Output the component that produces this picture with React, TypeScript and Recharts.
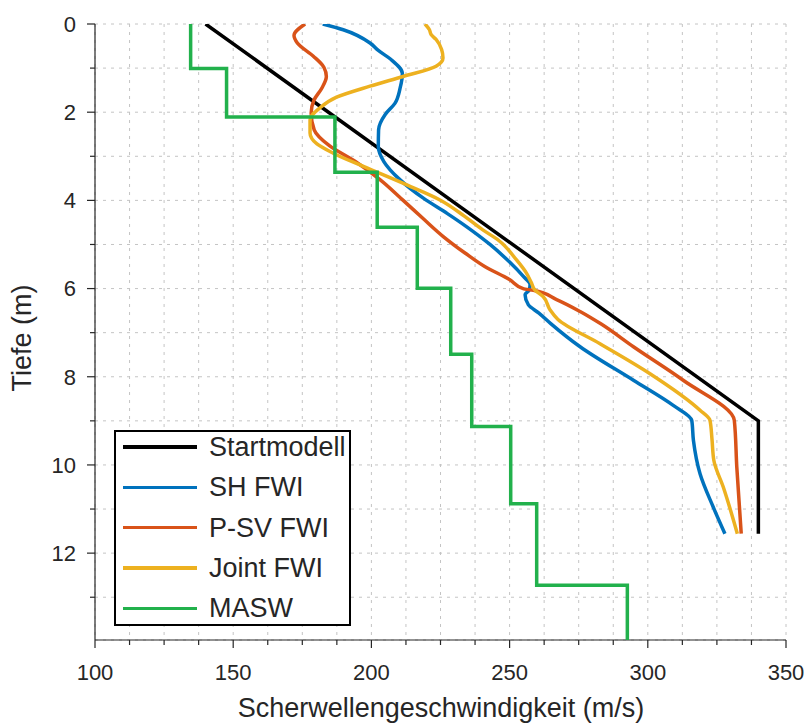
import { ScatterChart, Scatter, XAxis, YAxis, CartesianGrid, Legend } from "recharts";

const AXIS = "#262626";
const FONT = "'Liberation Sans', Arial, Helvetica, sans-serif";

// ticks
const xTicks = [100, 112.5, 125, 137.5, 150, 162.5, 175, 187.5, 200, 212.5, 225, 237.5, 250, 262.5, 275, 287.5, 300, 312.5, 325, 337.5, 350];
const yTicks = [0, 1, 2, 3, 4, 5, 6, 7, 8, 9, 10, 11, 12, 13];

// Startmodell
const depthStart = [0, 9, 11.56];
const vsStart = [140, 340, 340];

// SH FWI
const depthSH = [0, 0.13, 0.43, 0.6, 0.8, 1.12, 1.45, 1.8, 2.05, 2.4, 2.78, 3.12, 3.53, 3.95, 4.3, 4.6, 5.0, 5.4, 5.72, 5.91, 6.03, 6.14, 6.37, 6.55, 6.8, 7.32, 8.08, 8.65, 8.99, 9.44, 10.2, 10.96, 11.56];
const vsSH = [182.4, 189.8, 199.5, 202.5, 207, 211.2, 210.4, 208.5, 205, 202.6, 202.5, 204.5, 210.3, 218.8, 227.5, 234.5, 242.9, 250, 254.9, 257.4, 257.1, 255.6, 256.8, 260.5, 265, 275.5, 294.8, 309.2, 315.9, 316.5, 318.9, 323.7, 327.9];

// P-SV FWI
const depthPSV = [0, 0.26, 0.43, 0.73, 0.98, 1.19, 1.45, 1.73, 2.02, 2.4, 2.76, 3.12, 3.53, 4.0, 4.4, 4.82, 5.2, 5.5, 5.8, 6.0, 6.04, 6.25, 6.52, 6.8, 7.32, 8.08, 8.99, 10.05, 11.56];
const vsPSV = [176.0, 172.0, 173.2, 179.0, 182.8, 183.7, 182.1, 179.2, 178.2, 179.3, 184.8, 194.2, 203.1, 211.5, 218.5, 226, 234, 241, 250.1, 254.9, 258.6, 267, 275.5, 283, 294.8, 312.8, 331.3, 332.2, 333.8];

// Joint FWI
const depthJoint = [0, 0.13, 0.24, 0.35, 0.58, 0.77, 0.96, 1.19, 1.41, 1.66, 1.9, 2.17, 2.47, 2.72, 2.93, 3.23, 3.65, 3.99, 4.35, 4.67, 4.89, 5.35, 5.65, 5.87, 6.03, 6.18, 6.48, 6.7, 7.25, 7.93, 8.76, 8.99, 9.4, 9.9, 10.5, 11.56];
const vsJoint = [219.4, 221.0, 221.6, 223.4, 225.4, 225.9, 223.4, 211.5, 199.5, 187.4, 181.4, 177.8, 177.8, 180.3, 186.2, 197.1, 212.8, 224.8, 233.5, 240.3, 245.7, 252.5, 256.1, 257.9, 259.1, 262.1, 264.6, 267.5, 282.7, 300.8, 318.9, 322.5, 323.2, 323.9, 327.3, 332.4];

// MASW layers (boundaries and layer velocities)
const maswBounds = [0, 1.01, 2.11, 3.36, 4.61, 5.99, 7.49, 9.13, 10.88, 12.73, 14];
const maswVs = [134.6, 147.6, 186.8, 202.1, 216.6, 228.7, 236.3, 250.4, 259.8, 292.6];

const toPoints = (d: number[], v: number[]) => d.map((dd, i) => ({ d: dd, v: v[i] }));

const maswPoints = maswVs.flatMap((v, i) => [
  { v, d: maswBounds[i] },
  { v, d: maswBounds[i + 1] },
]);

const series = [
  { name: "Startmodell", color: "#000000", data: toPoints(depthStart, vsStart), joint: "linear" },
  { name: "SH FWI", color: "#0072BD", data: toPoints(depthSH, vsSH), joint: "monotoneY" },
  { name: "P-SV FWI", color: "#D95319", data: toPoints(depthPSV, vsPSV), joint: "monotoneY" },
  { name: "Joint FWI", color: "#EDB120", data: toPoints(depthJoint, vsJoint), joint: "monotoneY" },
  { name: "MASW", color: "#22B14C", data: maswPoints, joint: "linear" },
];

const BottomTick = ({ x, y, payload }: any) => {
  const major = payload.value % 50 === 0;
  return (
    <g>
      <line x1={x} x2={x} y1={y} y2={y + (major ? 8 : 5)} stroke={AXIS} strokeWidth={1.2} />
      {major && (
        <text x={x} y={y + 40} textAnchor="middle" fontSize={22} fontFamily={FONT} fill={AXIS}>
          {payload.value}
        </text>
      )}
    </g>
  );
};

const TopTick = ({ x, y, payload }: any) => {
  const major = payload.value % 50 === 0;
  return <line x1={x} x2={x} y1={y} y2={y - (major ? 8 : 5)} stroke={AXIS} strokeWidth={1.2} />;
};

const LeftTick = ({ x, y, payload }: any) => {
  const major = payload.value % 2 === 0;
  return (
    <g>
      <line x1={x} x2={x - (major ? 8 : 5)} y1={y} y2={y} stroke={AXIS} strokeWidth={1.2} />
      {major && (
        <text x={x - 19} y={y} dy="0.36em" textAnchor="end" fontSize={22} fontFamily={FONT} fill={AXIS}>
          {payload.value}
        </text>
      )}
    </g>
  );
};

const RightTick = ({ x, y, payload }: any) => {
  const major = payload.value % 2 === 0;
  return <line x1={x} x2={x + (major ? 8 : 5)} y1={y} y2={y} stroke={AXIS} strokeWidth={1.2} />;
};

const XTitle = () => (
  <text x={441} y={717} textAnchor="middle" fontSize={27} fontFamily={FONT} fill={AXIS}>
    Scherwellengeschwindigkeit (m/s)
  </text>
);

const YTitle = () => (
  <text x={31} y={338} transform="rotate(-90 31 338)" textAnchor="middle" fontSize={27} fontFamily={FONT} fill={AXIS}>
    Tiefe (m)
  </text>
);

const renderLegend = () => (
  <div
    style={{
      boxSizing: "border-box",
      width: 237,
      height: 196,
      border: "2px solid #000",
      background: "#fff",
      position: "relative",
      fontFamily: FONT,
      fontSize: 27,
      color: AXIS,
    }}
  >
    {series.map((s, i) => {
      const cy = 15 + i * 40.3;
      return (
        <div key={s.name}>
          <div style={{ position: "absolute", left: 7, top: cy - 1.7, width: 74, height: 3.5, background: s.color }} />
          <span style={{ position: "absolute", left: 93, top: cy, transform: "translateY(-50%)", lineHeight: 1, whiteSpace: "nowrap" }}>
            {s.name}
          </span>
        </div>
      );
    })}
  </div>
);

export default function App() {
  return (
    <div style={{ position: "absolute", left: 0, top: 0, background: "#fff" }}>
      <ScatterChart width={810} height={724} margin={{ top: 24, right: 24, bottom: 0, left: 0 }}>
        <CartesianGrid stroke="#c4c4c4" strokeDasharray="3 5" />
        <XAxis
          type="number"
          dataKey="v"
          domain={[100, 350]}
          allowDataOverflow
          ticks={xTicks}
          interval={0}
          height={84}
          tickSize={0}
          tickMargin={0}
          tickLine={false}
          tick={<BottomTick />}
          axisLine={{ stroke: AXIS, strokeWidth: 1.2 }}
          label={<XTitle />}
        />
        <XAxis
          xAxisId="top"
          orientation="top"
          type="number"
          domain={[100, 350]}
          allowDataOverflow
          ticks={xTicks}
          interval={0}
          height={0}
          tickSize={0}
          tickMargin={0}
          tickLine={false}
          tick={<TopTick />}
          axisLine={{ stroke: AXIS, strokeWidth: 1.2 }}
        />
        <YAxis
          type="number"
          dataKey="d"
          domain={[0, 13.97]}
          allowDataOverflow
          reversed
          ticks={yTicks}
          interval={0}
          width={95}
          tickSize={0}
          tickMargin={0}
          tickLine={false}
          tick={<LeftTick />}
          axisLine={{ stroke: AXIS, strokeWidth: 1.2 }}
          label={<YTitle />}
        />
        <YAxis
          yAxisId="right"
          orientation="right"
          type="number"
          domain={[0, 13.97]}
          allowDataOverflow
          reversed
          ticks={yTicks}
          interval={0}
          width={0}
          tickSize={0}
          tickMargin={0}
          tickLine={false}
          tick={<RightTick />}
          axisLine={{ stroke: AXIS, strokeWidth: 1.2 }}
        />
        {series.map((s) => (
          <Scatter
            key={s.name}
            name={s.name}
            data={s.data}
            fill={s.color}
            line={{ stroke: s.color, strokeWidth: 3.5 }}
            lineJointType={s.joint as any}
            shape={() => <g />}
            isAnimationActive={false}
          />
        ))}
        <Legend
          layout="vertical"
          align="center"
          verticalAlign="middle"
          wrapperStyle={{ left: 114, top: 430, width: 237, height: 196 }}
          content={renderLegend}
        />
      </ScatterChart>
    </div>
  );
}
